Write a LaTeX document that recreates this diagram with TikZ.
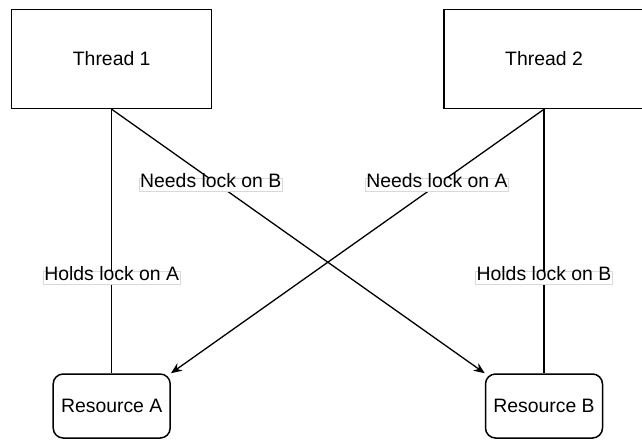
\documentclass[tikz,border=0pt]{standalone}
\usepackage{fontspec}
\setmainfont{Liberation Sans}
\usetikzlibrary{arrows.meta, positioning}

\begin{document}
\begin{tikzpicture}[x=1pt, y=-1pt, >={Stealth[length=11pt,width=9pt]}, font=\fontsize{19.4}{23}\selectfont]
  % Define styles
  \tikzstyle{thread} = [rectangle, minimum width=200pt, minimum height=99pt, text centered, draw=black, line width=1.5pt]
  \tikzstyle{resource} = [rectangle, rounded corners=10pt, minimum width=117pt, minimum height=64pt, text centered, draw=black, line width=1.5pt]
  \tikzstyle{line} = [draw, line width=1.3pt]
  \tikzstyle{arrow} = [line, ->]
  \tikzstyle{lbl} = [fill=white, draw=black!15, line width=0.8pt, inner xsep=1pt, inner ysep=1.5pt, text height=0.75em, text depth=0.25em]

  \useasboundingbox (0,0) rectangle (642,440);

  % Place nodes
  \node [thread] (thread1) at (111.7,59) {Thread 1};
  \node [thread] (thread2) at (544,59) {Thread 2};
  \node [resource] (resourceA) at (111.7,406) {Resource A};
  \node [resource] (resourceB) at (544,406) {Resource B};

  % Draw edges
  \path [line] (thread1.south) -- node[lbl, pos=0.64] {Holds lock on A} (resourceA.north);
  \path [line] (thread2.south) -- node[lbl, pos=0.64] {Holds lock on B} (resourceB.north);
  \path [arrow] (thread1.south) -- node[lbl, pos=0.287, xshift=-8pt] {Needs lock on B} (resourceB.north west);
  \path [arrow] (thread2.south) -- node[lbl, pos=0.287] {Needs lock on A} (resourceA.north east);
\end{tikzpicture}
\end{document}
